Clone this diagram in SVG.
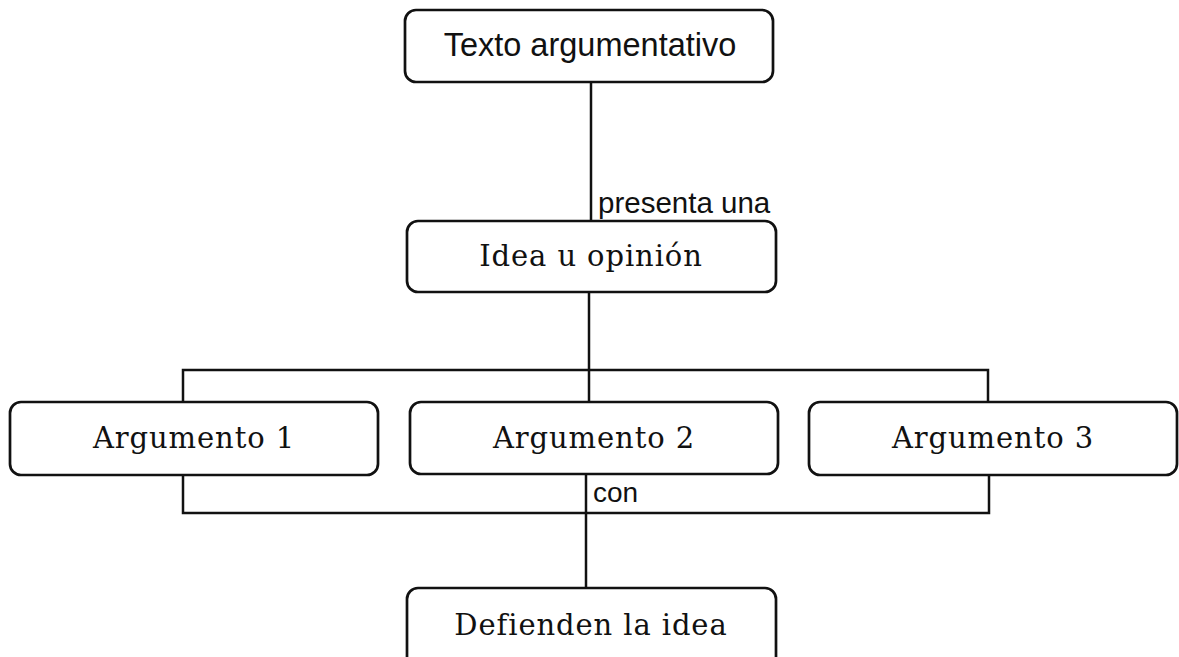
<svg xmlns="http://www.w3.org/2000/svg" width="1179" height="657" viewBox="0 0 1179 657">
<style>
.box{fill:#fff;stroke:#111;stroke-width:2.7}
.ln{fill:none;stroke:#111;stroke-width:2.5}
.sans{font-family:"Liberation Sans",Arial,sans-serif;fill:#111}
.serif{font-family:"DejaVu Serif","Liberation Serif",serif;font-size:29px;letter-spacing:0.9px;fill:#111;text-anchor:middle}
</style>
<rect x="0" y="0" width="1179" height="657" fill="#fff"/>
<g id="connectors">
<line class="ln" x1="591" y1="82" x2="591" y2="221"/>
<line class="ln" x1="589" y1="292" x2="589" y2="402"/>
<polyline class="ln" points="183,402 183,370 988,370 988,402"/>
<polyline class="ln" points="183,475 183,513 989,513 989,475"/>
<line class="ln" x1="586" y1="475" x2="586" y2="588"/>
<text class="sans" x="598" y="213" font-size="29.5">presenta una</text>
<text class="sans" x="593" y="502" font-size="28">con</text>
</g>
<g id="texto">
<rect class="box" x="405" y="10" width="368" height="72" rx="11"/>
<text class="sans" x="590" y="56" font-size="32.5" text-anchor="middle">Texto argumentativo</text>
</g>
<g id="idea">
<rect class="box" x="407" y="221" width="369" height="71" rx="11"/>
<text class="serif" x="591" y="266">Idea u opinión</text>
</g>
<g id="arg1">
<rect class="box" x="10" y="402" width="368" height="73" rx="11"/>
<text class="serif" x="194" y="448">Argumento 1</text>
</g>
<g id="arg2">
<rect class="box" x="410" y="402" width="368" height="72" rx="11"/>
<text class="serif" x="594" y="448">Argumento 2</text>
</g>
<g id="arg3">
<rect class="box" x="809" y="402" width="368" height="73" rx="11"/>
<text class="serif" x="993" y="448">Argumento 3</text>
</g>
<g id="defienden">
<rect class="box" x="407" y="588" width="369" height="80" rx="11"/>
<text class="serif" x="591" y="635">Defienden la idea</text>
</g>
</svg>
